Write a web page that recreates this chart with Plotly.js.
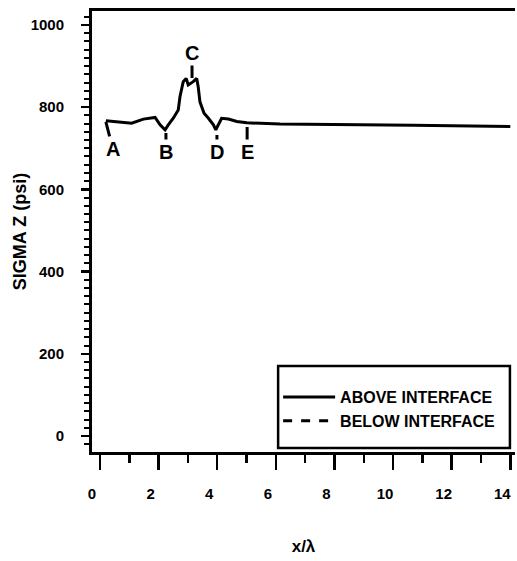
<!DOCTYPE html>
<html><head><meta charset="utf-8">
<script src="https://cdn.plot.ly/plotly-3.0.1.min.js"></script>
<style>html,body{margin:0;padding:0;background:#fff}#chart{width:517px;height:561px}</style>
</head><body><div id="chart"></div>
<script>
// x/lambda positions and SIGMA Z (psi) values
const xAbove = [0.2, 1.08, 1.48, 1.88, 2.05, 2.22, 2.33, 2.50, 2.67, 2.73, 2.84, 2.94, 3.01, 3.18, 3.30, 3.35, 3.41, 3.55, 3.70, 3.87, 3.95, 4.04, 4.15, 4.38, 4.67, 5.01, 6.14, 10.68, 14.0];
const yAbove = [767, 761, 771, 775, 757, 745, 757, 773, 793, 826, 862, 870, 854, 862, 870, 850, 813, 785, 773, 757, 745, 757, 773, 771, 765, 762, 759, 756, 753];
// below-interface series: not distinguishable in the picture (legend only)
const xBelow = [null];
const yBelow = [null];
const seriesNames = ["ABOVE INTERFACE", "BELOW INTERFACE"];
// point labels on the curve
const pointLabels = ["A", "B", "C", "D", "E"];
const pointX = [0.2, 2.25, 3.14, 3.99, 5.02];
const pointY = [764, 737, 871, 732, 752];
const xTickVals = [0, 2, 4, 6, 8, 10, 12, 14];
const xTickText = ["0", "2", "4", "6", "8", "10", "12", "14"];
const yTickVals = [0, 200, 400, 600, 800, 1000];

const labelOffsets = {A: [7, 27], B: [0, 19], C: [0, -25], D: [0, 17], E: [0, 25]};
const fam = "'Liberation Sans', Arial, sans-serif";

const traces = [
  {x: xAbove, y: yAbove, mode: "lines", name: seriesNames[0], line: {color: "#000", width: 3}},
  {x: xBelow, y: yBelow, mode: "lines", name: seriesNames[1], line: {color: "#000", width: 3, dash: "dash"}}
];

const annotations = pointLabels.map((t, i) => ({
  x: pointX[i], y: pointY[i], xref: "x", yref: "y", text: "<b>" + t + "</b>",
  showarrow: true, arrowhead: 0, arrowwidth: 3, arrowcolor: "#000",
  ax: labelOffsets[t][0], ay: labelOffsets[t][1], standoff: 0,
  font: {family: fam, size: 20, color: "#000"}
}));

const layout = {
  width: 517, height: 561,
  margin: {l: 92, r: 2, t: 11, b: 109},
  paper_bgcolor: "#fff", plot_bgcolor: "#fff",
  showlegend: true,
  legend: {
    x: 0.44, y: 0.163, xanchor: "left", yanchor: "top",
    bgcolor: "rgba(0,0,0,0)", borderwidth: 0, itemwidth: 52,
    font: {family: fam, size: 16, color: "#000", weight: "bold"},
    tracegroupgap: 0
  },
  shapes: [{type: "rect", xref: "paper", yref: "paper", x0: 0.44, x1: 0.988, y0: 0.009, y1: 0.195,
            line: {color: "#000", width: 2.5}, fillcolor: "rgba(0,0,0,0)"}],
  xaxis: {
    range: [-0.273, 14.16], tickvals: xTickVals, ticktext: xTickText,
    showline: true, mirror: true, linecolor: "#000", linewidth: 3,
    ticks: "outside", ticklen: 15, tickwidth: 2.5, tickcolor: "#000",
    ticklabelstandoff: 11, ticklabelshift: -8,
    minor: {dtick: 1, ticks: "outside", ticklen: 8, tickwidth: 2.5, tickcolor: "#000"},
    showgrid: false, zeroline: false,
    tickfont: {family: fam, size: 15, color: "#000", weight: "bold"},
    title: {text: "<b>x/λ</b>", font: {family: fam, size: 17, color: "#000"}, standoff: 40}
  },
  yaxis: {
    range: [-39, 1034], tickvals: yTickVals,
    showline: true, linecolor: "#000", linewidth: 3,
    ticks: "outside", ticklen: 8, tickwidth: 2.5, tickcolor: "#000",
    ticklabelstandoff: 14,
    minor: {dtick: 20, ticks: "outside", ticklen: 5, tickwidth: 2, tickcolor: "#000"},
    showgrid: false, zeroline: false,
    tickfont: {family: fam, size: 15, color: "#000", weight: "bold"},
    title: {text: "<b>SIGMA Z (psi)</b>", font: {family: fam, size: 18, color: "#000"}, standoff: 0}
  },
  annotations: annotations
};

Plotly.newPlot("chart", traces, layout, {displayModeBar: false, staticPlot: true});
</script></body></html>
